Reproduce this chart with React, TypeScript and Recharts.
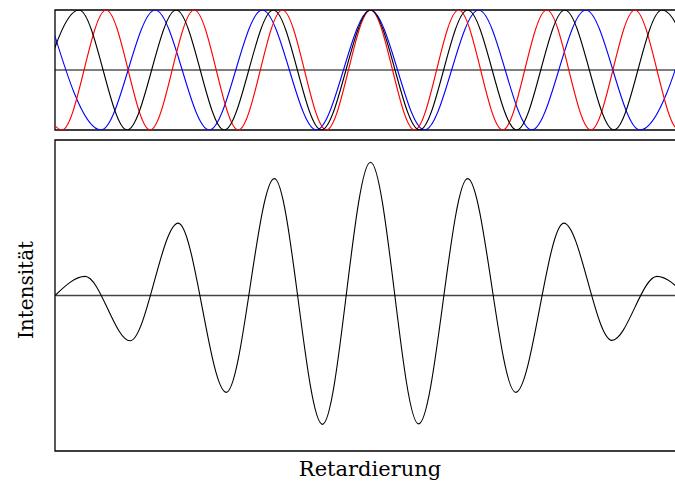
import { LineChart, Line, XAxis, YAxis, ReferenceArea, ReferenceLine } from "recharts";

// retardation positions (arbitrary units, 0 = zero path difference) of the
// maxima / minima of the three single-wavelength signals
const redX = [-352, -308, -264, -220, -176, -132, -88, -44, 0, 44, 88, 132, 176, 220, 264, 308, 352];
const redY = [1, -1, 1, -1, 1, -1, 1, -1, 1, -1, 1, -1, 1, -1, 1, -1, 1];

const blackX = [-339, -291, -243, -194, -146, -97, -49, 0, 49, 97, 146, 194, 243, 291, 339];
const blackY = [-1, 1, -1, 1, -1, 1, -1, 1, -1, 1, -1, 1, -1, 1, -1];

const blueX = [-323, -269, -215, -161, -108, -54, 0, 54, 108, 161, 215, 269, 323];
const blueY = [1, -1, 1, -1, 1, -1, 1, -1, 1, -1, 1, -1, 1];

// interferogram (sum signal): edges and extrema
const sumX = [-315, -285, -240, -192, -144, -96, -48, 0, 48, 97, 145, 193, 241, 286, 315];
const sumY = [0, 0.43, -1.02, 1.63, -2.18, 2.63, -2.9, 3.0, -2.89, 2.63, -2.18, 1.63, -1.01, 0.43, 0];

const xDomain: [number, number] = [-315, 315];

const toRows = (xs: number[], ys: number[]) => xs.map((x, i) => ({ x, y: ys[i] }));

const red = toRows(redX, redY);
const black = toRows(blackX, blackY);
const blue = toRows(blueX, blueY);
const sum = toRows(sumX, sumY);

const font = "'DejaVu Serif', serif";

export default function App() {
  return (
    <div style={{ position: "absolute", left: 0, top: 0, width: 675, height: 485, overflow: "hidden", background: "#fff" }}>
      <div style={{ position: "absolute", left: 0, top: 0 }}>
        <LineChart width={700} height={140} margin={{ top: 10, right: 14, bottom: 10, left: 55 }}>
          <XAxis type="number" dataKey="x" domain={xDomain} allowDataOverflow hide />
          <YAxis type="number" domain={[-1, 1]} allowDataOverflow hide />
          <ReferenceArea x1={-315} x2={315} y1={-1} y2={1} fill="none" stroke="#000" strokeWidth={1.3} />
          <ReferenceLine y={0} stroke="#000" strokeWidth={1.1} />
          <Line data={blue} dataKey="y" type="monotone" dot={false} stroke="#0000ff" strokeWidth={1.1} isAnimationActive={false} />
          <Line data={red} dataKey="y" type="monotone" dot={false} stroke="#ff0000" strokeWidth={1.1} isAnimationActive={false} />
          <Line data={black} dataKey="y" type="monotone" dot={false} stroke="#000" strokeWidth={1.1} isAnimationActive={false} />
        </LineChart>
      </div>

      <div style={{ position: "absolute", left: 0, top: 130 }}>
        <LineChart width={700} height={331} margin={{ top: 10, right: 14, bottom: 10, left: 55 }}>
          <XAxis type="number" dataKey="x" domain={xDomain} allowDataOverflow hide />
          <YAxis type="number" domain={[-3.5, 3.5]} allowDataOverflow hide />
          <ReferenceArea x1={-315} x2={315} y1={-3.5} y2={3.5} fill="none" stroke="#000" strokeWidth={1.3} />
          <ReferenceLine y={0} stroke="#444" strokeWidth={1.3} />
          <Line data={sum} dataKey="y" type="monotone" dot={false} stroke="#000" strokeWidth={1.1} isAnimationActive={false} />
        </LineChart>
      </div>

      <div
        style={{
          position: "absolute",
          left: 370,
          top: 457,
          transform: "translateX(-50%)",
          fontFamily: font,
          fontSize: 21,
          lineHeight: "24px",
          whiteSpace: "nowrap",
          color: "#000",
        }}
      >
        Retardierung
      </div>
      <div
        style={{
          position: "absolute",
          left: 26,
          top: 290,
          transform: "translate(-50%, -50%) rotate(-90deg)",
          fontFamily: font,
          fontSize: 20,
          lineHeight: "22px",
          whiteSpace: "nowrap",
          color: "#000",
        }}
      >
        Intensität
      </div>
    </div>
  );
}
